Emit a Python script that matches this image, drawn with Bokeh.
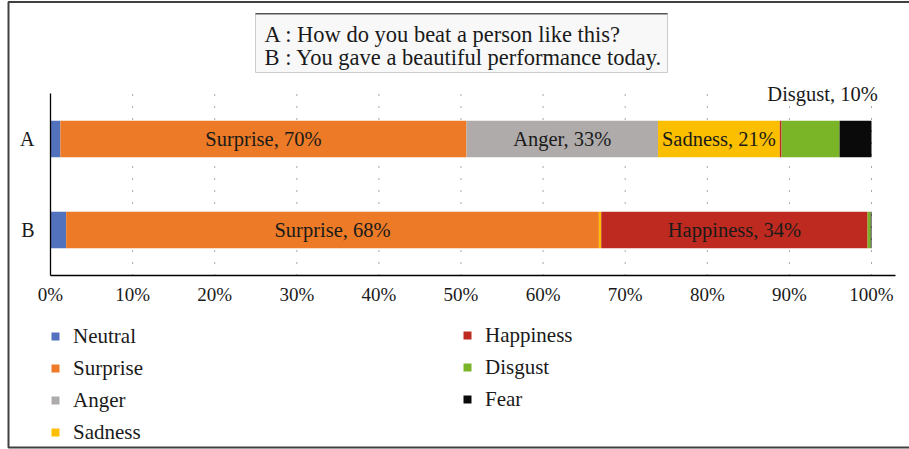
from bokeh.plotting import figure
from bokeh.models import (Range1d, Legend, LegendItem, Label,
                          BoxAnnotation, FixedTicker, ColumnDataSource)
from bokeh.core.properties import value
from bokeh.embed import file_html
from bokeh.resources import INLINE

# ---------------- data ----------------
rows = ["B", "A"]  # bottom to top
emotions = ["Neutral", "Surprise", "Anger", "Sadness", "Happiness", "Disgust", "Fear"]
colors = ["#5272BE", "#EC7A26", "#AFABAB", "#FBBF00", "#BE2A1F", "#7AB427", "#0A0A0A"]
score_A = [1.7, 70, 33, 21, 0.3, 10, 5.5]
score_B = [2.0, 68, 0, 0.3, 34, 0.4, 0.1]
tick_values = [0, 10, 20, 30, 40, 50, 60, 70, 80, 90, 100]
tick_labels = ["0%", "10%", "20%", "30%", "40%", "50%", "60%", "70%", "80%", "90%", "100%"]
inside_rows = ["A", "A", "A", "B", "B"]
inside_emotions = ["Surprise", "Anger", "Sadness", "Surprise", "Happiness"]
above_rows = ["A"]
above_emotions = ["Disgust"]
sentences = ["A : How do you beat a person like this?",
             "B : You gave a beautiful performance today."]

FONT = "Liberation Serif"
TXT = "#1a1a1a"

scores = {"A": score_A, "B": score_B}
shares = {r: [v / sum(scores[r]) * 100 for v in scores[r]] for r in rows}
ypos = {r: i + 0.5 for i, r in enumerate(rows)}

data = {"y": [ypos[r] for r in rows]}
for i, e in enumerate(emotions):
    data[e] = [shares[r][i] for r in rows]
src = ColumnDataSource(data)

W, H = 909, 449
PX_PER_PCT = 8.21      # horizontal scale of the frame
PX_PER_ROW = 91.0      # vertical scale of the frame
X0, Y0 = 50, 174       # pixel position of the origin inside the canvas (from left, from bottom)
p = figure(width=W, height=H, output_backend="svg", toolbar_location=None,
           x_range=Range1d(-X0 / PX_PER_PCT, (W - X0) / PX_PER_PCT),
           y_range=Range1d(-Y0 / PX_PER_ROW, (H - Y0) / PX_PER_ROW),
           min_border=0, min_border_left=0, min_border_right=0,
           min_border_top=0, min_border_bottom=0)
p.outline_line_color = None
p.background_fill_color = "white"
p.border_fill_color = "white"
p.grid.visible = False

# dotted vertical gridlines (under the bars)
p.segment(x0=tick_values[1:], x1=tick_values[1:], y0=[0] * 10, y1=[len(rows)] * 10,
          line_color="#555555", line_dash="1 11", line_width=1)

renderers = p.hbar_stack(emotions, y="y", height=0.4, color=colors,
                         line_color=None, source=src)

# axes drawn at the origin
p.xaxis.ticker = FixedTicker(ticks=tick_values)
p.xaxis.major_label_overrides = {t: l for t, l in zip(tick_values, tick_labels)}
p.xaxis.fixed_location = 0
p.xaxis.bounds = (0, 102.92)
p.yaxis.ticker = FixedTicker(ticks=[ypos[r] for r in rows])
p.yaxis.major_label_overrides = {ypos[r]: r for r in rows}
p.yaxis.fixed_location = 0
p.yaxis.bounds = (0, len(rows))
for ax in (p.xaxis[0], p.yaxis[0]):
    ax.axis_line_color = "#000000"
    ax.axis_line_width = 1.3
    ax.major_tick_line_color = None
    ax.minor_tick_line_color = None
    ax.major_label_text_font = FONT
    ax.major_label_text_color = TXT
    ax.major_label_text_font_size = "19px"
p.xaxis.major_label_standoff = 2
p.yaxis.major_label_standoff = 10
p.yaxis.major_label_text_font_size = "20px"

# segment labels
def center(r, e):
    i = emotions.index(e)
    s = shares[r]
    return sum(s[:i]) + s[i] / 2

lab = ColumnDataSource(dict(
    x=[center(r, e) for r, e in zip(inside_rows, inside_emotions)],
    y=[ypos[r] for r in inside_rows],
    t=[f"{e}, {scores[r][emotions.index(e)]:.0f}%" for r, e in zip(inside_rows, inside_emotions)],
))
p.text(x="x", y="y", text="t", source=lab, text_align="center", text_baseline="middle",
       text_font=value(FONT), text_font_size="20.5px", text_color=TXT)

lab2 = ColumnDataSource(dict(
    x=[center(r, e) for r, e in zip(above_rows, above_emotions)],
    y=[ypos[r] for r in above_rows],
    t=[f"{e}, {scores[r][emotions.index(e)]:.0f}%" for r, e in zip(above_rows, above_emotions)],
))
p.text(x="x", y="y", text="t", source=lab2, text_align="center", text_baseline="middle",
       x_offset=12, y_offset=-45,
       text_font=value(FONT), text_font_size="20.5px", text_color=TXT)

# legends (two columns)
col1 = [LegendItem(label=emotions[i], renderers=[renderers[i]]) for i in range(4)]
col2 = [LegendItem(label=emotions[i], renderers=[renderers[i]]) for i in range(4, 7)]
for items, loc in ((col1, (50, 4.5)), (col2, (462, 37.5))):
    lg = Legend(items=items, location=loc, padding=0, margin=0, spacing=7,
                label_height=22, glyph_height=10, glyph_width=10, label_standoff=13,
                border_line_color=None, background_fill_alpha=0,
                label_text_font=FONT, label_text_font_size="21px",
                label_text_color=TXT)
    p.add_layout(lg, "center")

# outer frame lines and sentence box
p.add_layout(BoxAnnotation(left=8, right=W + 10, top=1.5, bottom=447,
                           left_units="canvas", right_units="canvas",
                           top_units="canvas", bottom_units="canvas",
                           fill_alpha=0, line_color="#404040", line_alpha=1,
                           line_width=2))
p.add_layout(BoxAnnotation(left=255, right=667, top=13, bottom=72,
                           left_units="canvas", right_units="canvas",
                           top_units="canvas", bottom_units="canvas",
                           fill_color="#f8f8f8", fill_alpha=1,
                           line_color="#cccccc", line_alpha=1, line_width=1))
p.add_layout(BoxAnnotation(left=255, right=667, top=12.5, bottom=14,
                           left_units="canvas", right_units="canvas",
                           top_units="canvas", bottom_units="canvas",
                           fill_color="#555555", fill_alpha=1, line_color=None))
for k, s in enumerate(sentences):
    p.add_layout(Label(x=264, y=34 + 23 * k, x_units="canvas", y_units="canvas",
                       text=s, text_font=FONT, text_font_size="22.5px",
                       text_color=TXT, text_baseline="middle"))

open("out.html", "w").write(file_html(p, INLINE))
